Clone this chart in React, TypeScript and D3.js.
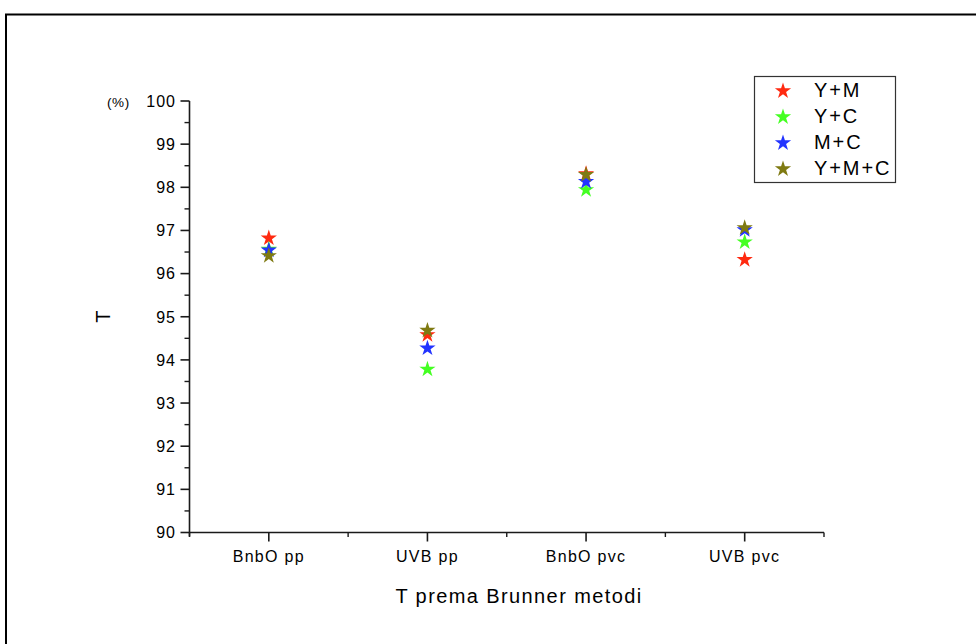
import React from "react";
import * as d3 from "d3";

const categories = ["BnbO pp", "UVB pp", "BnbO pvc", "UVB pvc"];
const seriesNames = ["Y+M", "Y+C", "M+C", "Y+M+C"];
const seriesColors = ["#ff2a10", "#44ff22", "#2233ff", "#7f7a12"];
const valuesYM = [96.84, 94.6, 98.33, 96.34];
const valuesYC = [96.58, 93.8, 97.96, 96.75];
const valuesMC = [96.56, 94.29, 98.15, 97.03];
const valuesYMC = [96.43, 94.7, 98.31, 97.08];
const seriesValues = [valuesYM, valuesYC, valuesMC, valuesYMC];
const yTicks = [90, 91, 92, 93, 94, 95, 96, 97, 98, 99, 100];
const yMinorTicks = [90.5, 91.5, 92.5, 93.5, 94.5, 95.5, 96.5, 97.5, 98.5, 99.5];
const xMinorTicks = [0.5, 1.5, 2.5, 3.5, 4.5];

const FONT = "'Liberation Sans', Arial, sans-serif";

export default function App() {
  const x = d3.scaleLinear().domain([0.5, 4.5]).range([189.5, 824]);
  const y = d3.scaleLinear().domain([90, 100]).range([532.5, 101]);
  const star = d3.symbol().type(d3.symbolStar).size(82)();
  const axisColor = "#1a1a1a";

  return (
    <svg
      width={976}
      height={644}
      style={{ position: "absolute", left: 0, top: 0, background: "#fff" }}
    >
      {/* frame */}
      <line x1={5} y1={14.5} x2={976} y2={14.5} stroke="#000" strokeWidth={2} />
      <line x1={6} y1={14} x2={6} y2={644} stroke="#000" strokeWidth={2} />

      {/* y axis */}
      <line x1={x(0.5)} y1={y(100)} x2={x(0.5)} y2={y(90) + 4} stroke={axisColor} strokeWidth={1.6} />
      {yTicks.map((t) => (
        <g key={"yt" + t}>
          <line x1={x(0.5) - 9} x2={x(0.5)} y1={y(t)} y2={y(t)} stroke={axisColor} strokeWidth={1.6} />
          <text
            x={176}
            y={y(t)}
            dy="0.36em"
            textAnchor="end"
            fontFamily={FONT}
            fontSize={16}
            letterSpacing={1}
            fill="#000"
          >
            {t}
          </text>
        </g>
      ))}
      {yMinorTicks.map((t) => (
        <line key={"ym" + t} x1={x(0.5) - 5} x2={x(0.5)} y1={y(t)} y2={y(t)} stroke={axisColor} strokeWidth={1.4} />
      ))}
      <text x={107} y={y(100) + 1} dy="0.36em" fontFamily={FONT} fontSize={13.5} letterSpacing={0.6} fill="#000">
        (%)
      </text>

      {/* x axis */}
      <line x1={x(0.5)} y1={y(90)} x2={x(4.5)} y2={y(90)} stroke={axisColor} strokeWidth={1.6} />
      {categories.map((c, i) => (
        <g key={c}>
          <line x1={x(i + 1)} x2={x(i + 1)} y1={y(90)} y2={y(90) + 9} stroke={axisColor} strokeWidth={1.6} />
          <text
            x={x(i + 1)}
            y={556}
            dy="0.36em"
            textAnchor="middle"
            fontFamily={FONT}
            fontSize={16}
            letterSpacing={1.3}
            fill="#000"
          >
            {c}
          </text>
        </g>
      ))}
      {xMinorTicks.map((t) => (
        <line key={"xm" + t} x1={x(t)} x2={x(t)} y1={y(90)} y2={y(90) + 4.5} stroke={axisColor} strokeWidth={1.4} />
      ))}

      {/* axis titles */}
      <text
        x={519}
        y={596}
        dy="0.36em"
        textAnchor="middle"
        fontFamily={FONT}
        fontSize={20}
        letterSpacing={1.4}
        fill="#000"
      >
        T prema Brunner metodi
      </text>
      <text
        transform={`translate(103,${y(95)}) rotate(-90)`}
        dy="0.36em"
        textAnchor="middle"
        fontFamily={FONT}
        fontSize={20}
        fill="#000"
      >
        T
      </text>

      {/* data */}
      {seriesValues.map((vals, si) => (
        <g key={seriesNames[si]}>
          {vals.map((v, ci) => (
            <path
              key={ci}
              d={star || ""}
              transform={`translate(${x(ci + 1)},${y(v) + 0.8})`}
              fill={seriesColors[si]}
            />
          ))}
        </g>
      ))}

      {/* legend */}
      <rect x={754.5} y={76.5} width={141} height={106} fill="#fff" stroke="#333" strokeWidth={1.2} />
      {seriesNames.map((n, i) => (
        <g key={"lg" + n}>
          <path d={star || ""} transform={`translate(783,${91 + i * 26})`} fill={seriesColors[i]} />
          <text
            x={814}
            y={90 + i * 26}
            dy="0.36em"
            fontFamily={FONT}
            fontSize={20}
            letterSpacing={1.9}
            fill="#000"
          >
            {n}
          </text>
        </g>
      ))}
    </svg>
  );
}
